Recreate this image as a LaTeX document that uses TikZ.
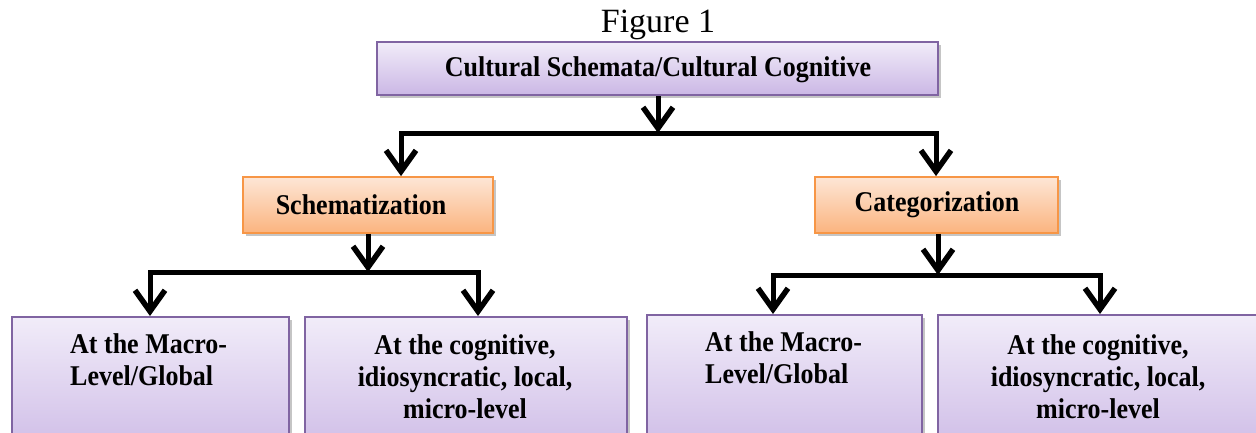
\documentclass[tikz,border=0pt]{standalone}
\usepackage{fontspec}
\setmainfont{Liberation Serif}
\usetikzlibrary{arrows.meta,shadows}
\definecolor{purpTop}{HTML}{F1ECF9}
\definecolor{purpBot}{HTML}{CBB7E5}
\definecolor{purpLine}{HTML}{8064A2}
\definecolor{orTop}{HTML}{FDE6D6}
\definecolor{orBot}{HTML}{FBB47F}
\definecolor{orLine}{HTML}{F79646}
\newcommand{\tallt}[1]{\scalebox{1}[1.1]{#1}}
\tikzset{
  purpbox/.style={draw=purpLine, line width=2.4pt, top color=purpTop, bottom color=purpBot,
    drop shadow={shadow xshift=3pt, shadow yshift=-3pt, opacity=0.45}, inner sep=0pt},
  orbox/.style={draw=orLine, line width=1.8pt, top color=orTop, bottom color=orBot,
    drop shadow={shadow xshift=3pt, shadow yshift=-3pt, opacity=0.45}, inner sep=0pt},
  txt/.style={font=\fontsize{26}{32}\selectfont\bfseries, inner sep=0pt},
  conn/.style={line width=5pt, line join=miter, black},
  arr/.style={conn, -{Straight Barb[length=21pt,width=30pt,line width=5.5pt]}},
}
\begin{document}
\begin{tikzpicture}[x=1pt,y=-1pt]
\clip (0,0) rectangle (1256,432);
\fill[white] (0,0) rectangle (1256,432);

\node[inner sep=0pt, font=\fontsize{34}{38}\selectfont] (fig) at (658,25) {Figure 1};

% top box
\node[purpbox, minimum width=561pt, minimum height=53pt] (top) at (657.5,68.5) {};
\node[txt] (toptxt) at (658,70) {\tallt{Cultural Schemata/Cultural Cognitive}};

% second level
\node[orbox, minimum width=250pt, minimum height=56pt] (schem) at (368,205) {};
\node[txt] (schemtxt) at (361,205) {\tallt{Schematization}};
\node[orbox, minimum width=243pt, minimum height=56pt] (categ) at (936.5,205) {};
\node[txt] (categtxt) at (937,205) {\tallt{Categorization}};

% bottom boxes
\node[purpbox, minimum width=277pt, minimum height=150pt, anchor=north west] (b1) at (11,316) {};
\node[purpbox, minimum width=322pt, minimum height=150pt, anchor=north west] (b2) at (304,316) {};
\node[purpbox, minimum width=275pt, minimum height=150pt, anchor=north west] (b3) at (646,314) {};
\node[purpbox, minimum width=322pt, minimum height=150pt, anchor=north west] (b4) at (937,314) {};

\node[txt, align=left, anchor=north west] (b1txt) at (70,333) {\tallt{At the Macro-}\\\tallt{Level/Global}};
\node[txt, align=center, anchor=north] (b2txt) at (465,334) {\tallt{At the cognitive,}\\\tallt{idiosyncratic, local,}\\\tallt{micro-level}};
\node[txt, align=left, anchor=north west] (b3txt) at (705,331) {\tallt{At the Macro-}\\\tallt{Level/Global}};
\node[txt, align=center, anchor=north] (b4txt) at (1098,334) {\tallt{At the cognitive,}\\\tallt{idiosyncratic, local,}\\\tallt{micro-level}};

% connectors level 1
\coordinate (j0) at (658,133);
\coordinate (j0l) at (401,133);
\coordinate (j0r) at (936,133);
\draw[arr] (top.south -| j0) -- (j0);
\draw[arr] (j0r) -- (j0l) -- (schem.north -| j0l);
\draw[arr] (j0l) -- (j0r) -- (categ.north -| j0r);

% connectors level 2 left
\coordinate (j1) at (368,272);
\coordinate (j1l) at (150,272);
\coordinate (j1r) at (478,272);
\draw[arr] (schem.south -| j1) -- (j1);
\draw[arr] (j1r) -- (j1l) -- (b1.north -| j1l);
\draw[arr] (j1l) -- (j1r) -- (b2.north -| j1r);

% connectors level 2 right
\coordinate (j2) at (938,275);
\coordinate (j2l) at (773,275);
\coordinate (j2r) at (1100,275);
\draw[arr] (categ.south -| j2) -- (j2);
\draw[arr] (j2r) -- (j2l) -- (b3.north -| j2l);
\draw[arr] (j2l) -- (j2r) -- (b4.north -| j2r);
\end{tikzpicture}
\end{document}
